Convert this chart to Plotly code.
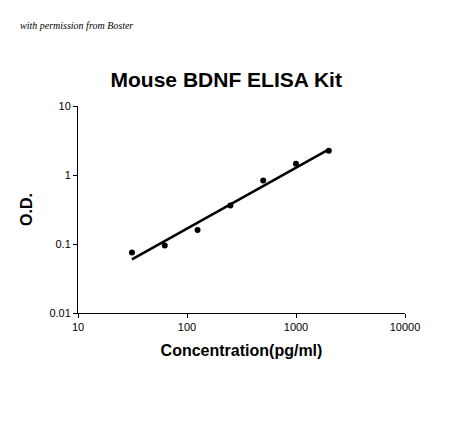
import plotly.graph_objects as go

# standard curve points
conc = [31.25, 62.5, 125, 250, 500, 1000, 2000]
od = [0.075, 0.095, 0.16, 0.36, 0.83, 1.45, 2.25]

# fitted line ends
fit_x = [31.25, 2000]
fit_y = [0.06, 2.35]

x_ticks = [10, 100, 1000, 10000]
y_ticks = [0.01, 0.1, 1, 10]

fig = go.Figure()
fig.add_trace(go.Scatter(x=fit_x, y=fit_y, mode="lines",
                         line=dict(color="black", width=2.5)))
fig.add_trace(go.Scatter(x=conc, y=od, mode="markers",
                         marker=dict(color="black", size=6)))

axis_style = dict(type="log", showgrid=False, zeroline=False, showline=True,
                  linecolor="black", linewidth=1, ticks="outside", ticklen=4,
                  tickcolor="black", tickfont=dict(family="Liberation Sans", size=11, color="black"))

fig.update_xaxes(range=[1, 4], tickvals=x_ticks, ticktext=[str(v) for v in x_ticks],
                 title=dict(text="<b>Concentration(pg/ml)</b>",
                            font=dict(family="Liberation Sans", size=16, color="black"),
                            standoff=12),
                 **axis_style)
fig.update_yaxes(range=[-2, 1], tickvals=y_ticks, ticktext=["0.01", "0.1", "1", "10"],
                 title=dict(text="<b>O.D.</b>",
                            font=dict(family="Liberation Sans", size=16, color="black"),
                            standoff=12),
                 **axis_style)

fig.update_layout(
    width=450, height=446,
    margin=dict(l=70, r=53, t=98, b=141),
    plot_bgcolor="white", paper_bgcolor="white",
    showlegend=False,
    title=dict(text="<b>Mouse BDNF ELISA Kit</b>", x=0.485, xanchor="center",
               y=0.84, yanchor="middle",
               font=dict(family="Liberation Sans", size=21, color="black")),
    annotations=[dict(text="<i>with permission from Boster</i>", xref="paper", yref="paper",
                      x=-0.183, y=1.39, xanchor="left", yanchor="middle", showarrow=False,
                      font=dict(family="Liberation Serif", size=10, color="black"))],
)

fig.write_html("out.html")
